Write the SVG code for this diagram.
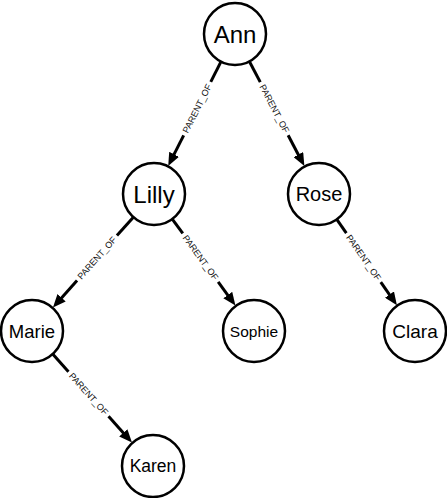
<svg xmlns="http://www.w3.org/2000/svg" width="447" height="498" viewBox="0 0 447 498">
<style>
.node circle{fill:#fff;stroke:#000;stroke-width:2.5}
.node text{font-family:"Liberation Sans",Arial,sans-serif;fill:#000;text-anchor:middle}
.edge line{stroke:#000;stroke-width:3;fill:none}
.edge line.tip{marker-end:url(#arrow)}
.edge text{font-family:"Liberation Sans",Arial,sans-serif;font-size:9px;fill:#111;text-anchor:middle;dominant-baseline:central}
</style>
<defs>
<marker id="arrow" viewBox="0 -5.5 13 11" refX="1.5" refY="0" markerWidth="13" markerHeight="11" markerUnits="userSpaceOnUse" orient="auto">
<path d="M0,-5.5 L13,0 L0,5.5 Z" fill="#000"/>
</marker>
</defs>
<rect width="447" height="498" fill="#fff"/>
<g id="connectors">
<g class="edge" id="e-ann-lilly">
<line x1="221.00" y1="61.66" x2="210.76" y2="81.89"/>
<line class="tip" x1="183.66" y1="135.41" x2="173.42" y2="155.63"/>
<text transform="translate(197.21,108.65) rotate(-63.15)">PARENT_OF</text>
</g>
<g class="edge" id="e-ann-rose">
<line x1="249.41" y1="61.45" x2="260.27" y2="82.13"/>
<line class="tip" x1="288.15" y1="135.25" x2="299.01" y2="155.93"/>
<text transform="translate(274.21,108.69) rotate(62.30)">PARENT_OF</text>
</g>
<g class="edge" id="e-lilly-marie">
<line x1="133.38" y1="217.15" x2="116.94" y2="235.62"/>
<line class="tip" x1="77.04" y1="280.42" x2="60.60" y2="298.89"/>
<text transform="translate(96.99,258.02) rotate(-48.31)">PARENT_OF</text>
</g>
<g class="edge" id="e-lilly-sophie">
<line x1="172.28" y1="219.04" x2="182.78" y2="233.43"/>
<line class="tip" x1="218.16" y1="281.89" x2="228.65" y2="296.27"/>
<text transform="translate(200.47,257.66) rotate(53.87)">PARENT_OF</text>
</g>
<g class="edge" id="e-rose-clara">
<line x1="336.79" y1="219.39" x2="346.34" y2="233.02"/>
<line class="tip" x1="380.78" y1="282.16" x2="390.32" y2="295.78"/>
<text transform="translate(363.56,257.59) rotate(54.98)">PARENT_OF</text>
</g>
<g class="edge" id="e-marie-karen">
<line x1="52.69" y1="354.08" x2="68.48" y2="371.69"/>
<line class="tip" x1="108.52" y1="416.37" x2="124.30" y2="433.98"/>
<text transform="translate(88.50,394.03) rotate(48.13)">PARENT_OF</text>
</g>
</g>
<g class="node" id="n-ann"><circle cx="235" cy="34" r="31"/><text x="235" y="42.5" font-size="24">Ann</text></g>
<g class="node" id="n-lilly"><circle cx="154" cy="194" r="31"/><text x="154" y="202.5" font-size="24">Lilly</text></g>
<g class="node" id="n-rose"><circle cx="319" cy="194" r="31"/><text x="319" y="201" font-size="20">Rose</text></g>
<g class="node" id="n-marie"><circle cx="32" cy="331" r="31"/><text x="32" y="337.5" font-size="18.5">Marie</text></g>
<g class="node" id="n-sophie"><circle cx="254" cy="331" r="31"/><text x="254" y="336.5" font-size="15.5">Sophie</text></g>
<g class="node" id="n-clara"><circle cx="415" cy="331" r="31"/><text x="415" y="337.5" font-size="19">Clara</text></g>
<g class="node" id="n-karen"><circle cx="153" cy="466" r="31"/><text x="153" y="472.3" font-size="17.5">Karen</text></g>
</svg>
